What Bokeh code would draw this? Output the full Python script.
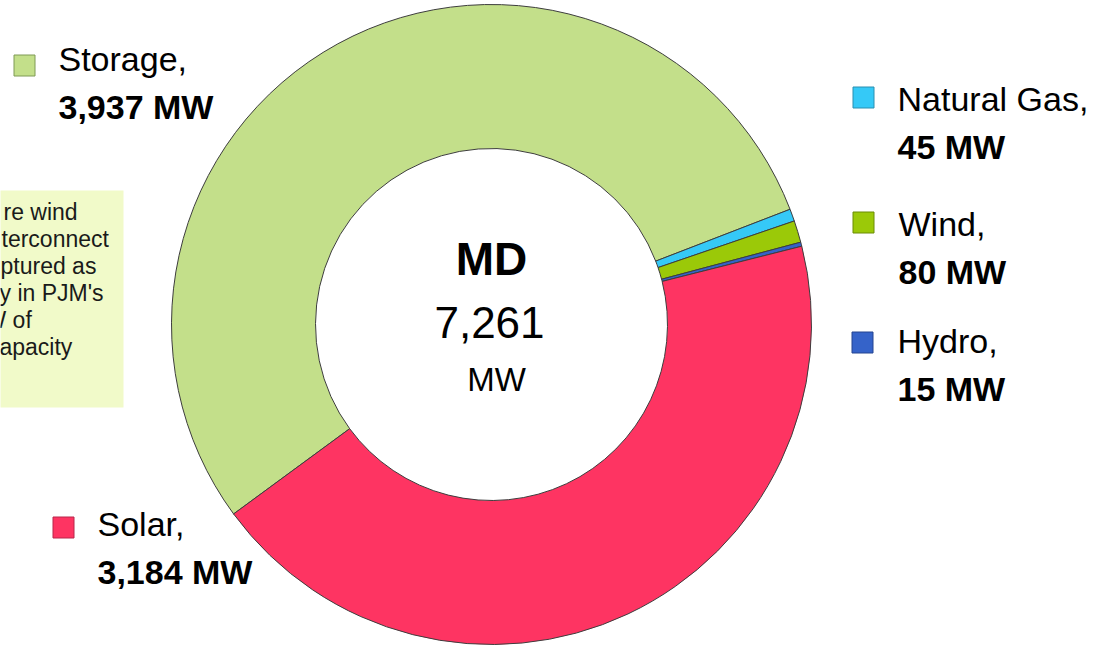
import numpy as np
from bokeh.plotting import figure
from bokeh.models import Range1d, ColumnDataSource
from bokeh.core.properties import value
from bokeh.embed import file_html
from bokeh.resources import INLINE

# ---- data ----
categories = ["Storage", "Natural Gas", "Wind", "Hydro", "Solar"]
values_mw = [3937, 45, 80, 15, 3184]
colors = ["#c3df8a", "#35c9f7", "#9bc908", "#3563c9", "#fe3462"]
edge_colors = ["#7f9a55", "#2a8fb0", "#6b8c05", "#244590", "#b8264a"]
region = "MD"
total_label = "7,261"
unit = "MW"
note_lines = ["re wind", "terconnect", "ptured as", "y in PJM's", "W of", "apacity"]

# ---- layout ----
W, H = 1087, 647
def X(xp):
    return xp
def Y(yp):
    return H - yp
def YB(baseline, size):
    # empirical correction for where the rendered baseline lands
    return Y(baseline - 0.41 * size)

FONT = "'Liberation Sans', Arial, sans-serif"

p = figure(width=W, height=H, output_backend="svg", toolbar_location=None,
           x_range=Range1d(0, W), y_range=Range1d(0, H),
           x_axis_type=None, y_axis_type=None, min_border=0, tools="")
p.grid.visible = False
p.outline_line_color = None
p.background_fill_color = "white"
p.border_fill_color = "white"

# note box (clipped at left)
p.quad(left=-30, right=X(123), top=Y(190), bottom=Y(407), fill_color="#f1fac9", line_color=None)
NS = 23
note_x = [3, 1, 0, -1, -16, -1]
note_base = [221, 248, 275, 302, 329, 356]
p.text(x=[X(v) for v in note_x], y=[YB(b, NS) for b in note_base], text=note_lines,
       text_font=value(FONT), text_font_size=f"{NS}px", text_color="#1a1a1a",
       text_align="left", text_baseline="alphabetic")

# donut
vals = np.array(values_mw, dtype=float)
frac = vals / vals.sum()
theta0 = np.deg2rad(216.3)
cum = np.concatenate([[0.0], np.cumsum(frac)]) * 2 * np.pi
src = ColumnDataSource(dict(cat=categories, val=values_mw, color=colors,
                            start=theta0 - cum[1:], end=theta0 - cum[:-1]))
p.annular_wedge(x=X(491), y=Y(324), inner_radius=176, outer_radius=320,
                start_angle="start", end_angle="end", fill_color="color",
                line_color="#3d3d3d", line_width=1, source=src)

# center text
p.text(x=[X(491)], y=[YB(277, 46)], text=[region], text_font=value(FONT), text_font_size="46px",
       text_font_style="bold", text_align="center", text_baseline="alphabetic", text_color="black")
p.text(x=[X(489)], y=[YB(340, 44)], text=[total_label], text_font=value(FONT), text_font_size="44px",
       text_align="center", text_baseline="alphabetic", text_color="black")
p.text(x=[X(496)], y=[YB(393, 33)], text=[unit], text_font=value(FONT), text_font_size="33px",
       text_align="center", text_baseline="alphabetic", text_color="black")

# legend-style labels: (square center x, square center y, text x, first baseline)
LS = 34
label_pos = {
    "Storage": (24, 65, 58, 72),
    "Solar": (63, 527, 97, 537),
    "Natural Gas": (863, 97, 897, 112),
    "Wind": (863, 222, 898, 237),
    "Hydro": (862, 342, 897, 354),
}
sq_x, sq_y, sq_c, sq_e = [], [], [], []
t1x, t1y, t1 = [], [], []
t2y, t2 = [], []
for cat, v, c, e in zip(categories, values_mw, colors, edge_colors):
    sx, sy, tx, tb = label_pos[cat]
    sq_x.append(X(sx)); sq_y.append(Y(sy)); sq_c.append(c); sq_e.append(e)
    t1x.append(X(tx)); t1y.append(YB(tb, LS)); t1.append(cat + ",")
    t2y.append(YB(tb + 48, LS)); t2.append(f"{v:,} {unit}")

p.rect(x=sq_x, y=sq_y, width=21, height=21, fill_color=sq_c, line_color=sq_e, line_width=1)
p.text(x=t1x, y=t1y, text=t1, text_font=value(FONT), text_font_size=f"{LS}px",
       text_align="left", text_baseline="alphabetic", text_color="black")
p.text(x=t1x, y=t2y, text=t2, text_font=value(FONT), text_font_size=f"{LS}px",
       text_font_style="bold", text_align="left", text_baseline="alphabetic", text_color="black")

open("out.html", "w").write(file_html(p, INLINE))
